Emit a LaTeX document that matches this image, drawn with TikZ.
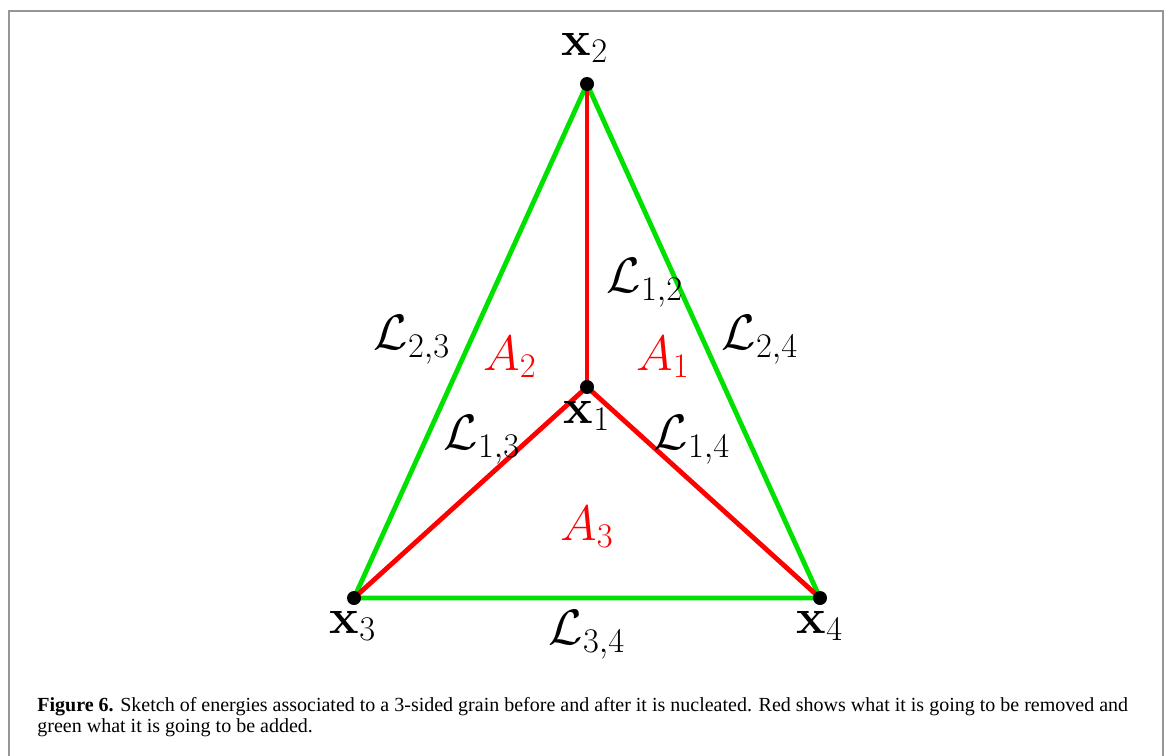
\documentclass[tikz,border=0pt]{standalone}
\usepackage[no-math]{fontspec}
\newfontfamily\capfont{Liberation Serif}
\definecolor{edgegreen}{RGB}{0,225,0}
\definecolor{edgered}{RGB}{255,0,0}
\definecolor{framegray}{RGB}{150,150,150}
\tikzset{
  vertex/.style={circle,fill=black,inner sep=0pt,minimum size=7pt},
  greenedge/.style={draw=edgegreen,line width=2.4pt},
  rededge/.style={draw=edgered,line width=2.4pt},
  lab/.style={inner sep=0pt,font=\fontsize{26}{30}\selectfont},
  arealab/.style={lab,text=edgered},
  capline/.style={inner sep=0pt,anchor=base west,font=\capfont\fontsize{10}{12}\selectfont}
}
\begin{document}
\begin{tikzpicture}[x=0.5pt,y=-0.5pt]
\useasboundingbox (0,0) rectangle (1171,755);
\draw[framegray,line width=1pt] (9,756) -- (9,11) -- (1163,11) -- (1163,756);
\coordinate (p1) at (587,387);
\coordinate (p2) at (587,84);
\coordinate (p3) at (354,598);
\coordinate (p4) at (820,598);
\draw[greenedge] (p2) -- (p3) -- (p4) -- cycle;
\draw[rededge] (p1) -- (p2);
\draw[rededge] (p1) -- (p3);
\draw[rededge] (p1) -- (p4);
\node[vertex] (v1) at (p1) {};
\node[vertex] (v2) at (p2) {};
\node[vertex] (v3) at (p3) {};
\node[vertex] (v4) at (p4) {};
\node[lab] (lx2) at (585,48) {$\mathbf{x}_2$};
\node[lab] (lx1) at (587,416) {$\mathbf{x}_1$};
\node[lab] (lx3) at (353,626) {$\mathbf{x}_3$};
\node[lab] (lx4) at (820,626) {$\mathbf{x}_4$};
\node[lab] (l12) at (645,283) {$\mathcal{L}_{1,2}$};
\node[lab] (l23) at (412,340) {$\mathcal{L}_{2,3}$};
\node[lab] (l24) at (760,340) {$\mathcal{L}_{2,4}$};
\node[lab] (l13) at (482,440) {$\mathcal{L}_{1,3}$};
\node[lab] (l14) at (692,440) {$\mathcal{L}_{1,4}$};
\node[lab] (l34) at (587,635) {$\mathcal{L}_{3,4}$};
\node[arealab] (a2) at (510,357) {$A_2$};
\node[arealab] (a1) at (663,357) {$A_1$};
\node[arealab] (a3) at (587,527) {$A_3$};
\node[capline] (cap1) at (37,711) {\textbf{Figure 6.} Sketch of energies associated to a 3-sided grain before and after it is nucleated. Red shows what it is going to be removed and};
\node[capline] (cap2) at (37,732) {green what it is going to be added.};
\end{tikzpicture}
\end{document}
